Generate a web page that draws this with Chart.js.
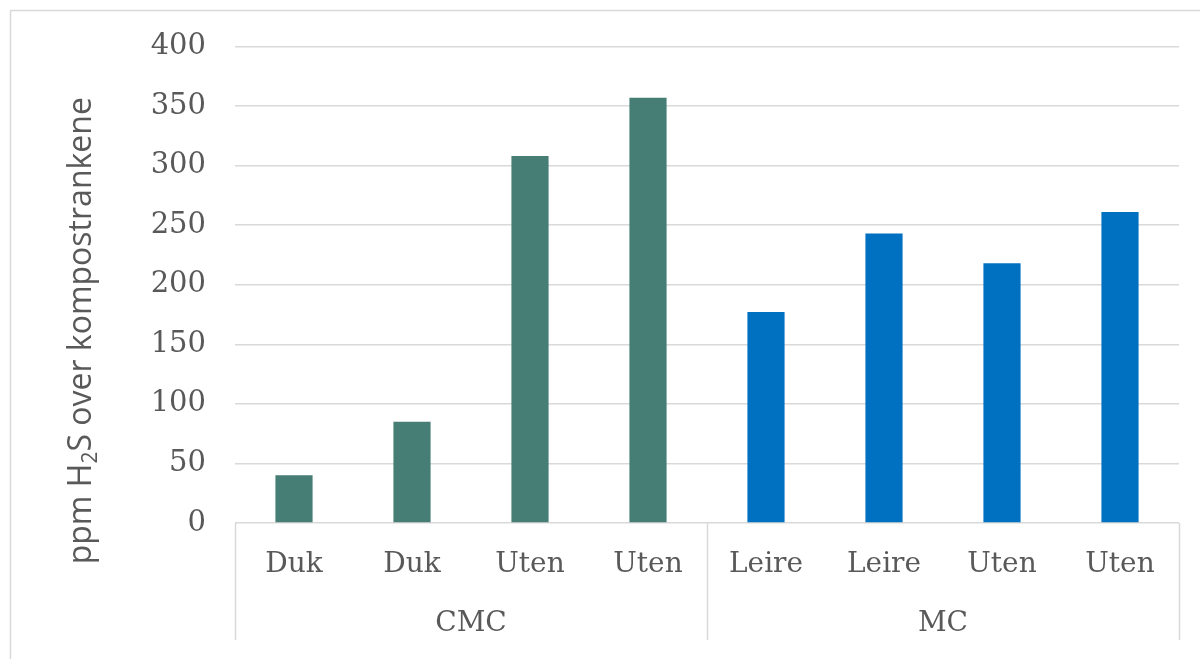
<!DOCTYPE html>
<html>
<head>
<meta charset="utf-8">
<script src="https://cdn.jsdelivr.net/npm/chart.js@4/dist/chart.umd.min.js"></script>
<style>
  html, body { margin: 0; padding: 0; background: #fff; }
  #wrap { width: 1200px; height: 659px; position: relative; }
</style>
</head>
<body>
<div id="wrap"><canvas id="c" width="1200" height="659"></canvas></div>
<script>
// Sub-categories (inner axis level), grouped under the outer labels
const categories = ['Duk', 'Duk', 'Uten', 'Uten', 'Leire', 'Leire', 'Uten', 'Uten'];
const groups = ['CMC', 'MC'];
const groupSizes = [4, 4];
const values = [40, 85, 308, 357, 177, 243, 218, 261];
const groupColors = ['#467d74', '#0070c0'];
const yTicks = [0, 50, 100, 150, 200, 250, 300, 350, 400];
// Axis title: "ppm H", subscript "2", "S over kompostrankene"
const yTitleParts = ['ppm H', '2', 'S over kompostrankene'];

const textGray = '#595959';
const lineGray = '#d9d9d9';
const serif = '"DejaVu Serif", "Liberation Serif", serif';
const sans = '"Open Sans", "Noto Sans", sans-serif';

// One colour per bar, taken from the group it belongs to
const barColors = [];
groupSizes.forEach((n, g) => { for (let i = 0; i < n; i++) barColors.push(groupColors[g]); });

const decor = {
  id: 'decor',
  beforeDraw(chart) {
    const ctx = chart.ctx;
    ctx.save();
    ctx.fillStyle = '#fff';
    ctx.fillRect(0, 0, chart.width, chart.height);
    ctx.strokeStyle = lineGray;
    ctx.lineWidth = 1.5;
    ctx.strokeRect(10.5, 10.5, chart.width + 10, chart.height + 10);
    ctx.restore();
  },
  afterDraw(chart) {
    const ctx = chart.ctx;
    const xs = chart.scales.x, ys = chart.scales.y;
    const base = ys.getPixelForValue(0);
    const bottom = 640;
    // vertical separators between outer groups
    const bounds = [xs.left];
    let idx = 0;
    groupSizes.forEach((n, g) => {
      idx += n;
      if (g < groupSizes.length - 1) {
        bounds.push((xs.getPixelForValue(idx - 1) + xs.getPixelForValue(idx)) / 2);
      } else {
        bounds.push(xs.right);
      }
    });
    ctx.save();
    ctx.strokeStyle = lineGray;
    ctx.lineWidth = 1.5;
    bounds.forEach(b => {
      ctx.beginPath();
      ctx.moveTo(Math.round(b) + 0.5, base);
      ctx.lineTo(Math.round(b) + 0.5, bottom);
      ctx.stroke();
    });
    ctx.restore();

    // rotated y-axis title with subscript
    const mainFont = '32px ' + sans;
    const subFont = '21px ' + sans;
    ctx.save();
    ctx.fillStyle = textGray;
    ctx.textBaseline = 'middle';
    ctx.font = mainFont;
    const w0 = ctx.measureText(yTitleParts[0]).width;
    const w2 = ctx.measureText(yTitleParts[2]).width;
    ctx.font = subFont;
    const w1 = ctx.measureText(yTitleParts[1]).width;
    const total = w0 + w1 + w2;
    const cx = 82, cy = (ys.top + ys.bottom) / 2 + 46;
    ctx.translate(cx, cy);
    ctx.rotate(-Math.PI / 2);
    let x = -total / 2;
    ctx.font = mainFont;
    ctx.fillText(yTitleParts[0], x, 0);
    x += w0;
    ctx.font = subFont;
    ctx.fillText(yTitleParts[1], x, 9);
    x += w1;
    ctx.font = mainFont;
    ctx.fillText(yTitleParts[2], x, 0);
    ctx.restore();
  }
};

new Chart(document.getElementById('c'), {
  type: 'bar',
  data: {
    labels: categories,
    datasets: [{
      data: values,
      backgroundColor: barColors,
      borderWidth: 0,
      barPercentage: 0.315,
      categoryPercentage: 1.0
    }]
  },
  options: {
    responsive: false,
    animation: false,
    devicePixelRatio: 1,
    layout: { padding: { top: 45, right: 21, bottom: 0, left: 0 } },
    plugins: { legend: { display: false }, tooltip: { enabled: false }, title: { display: false } },
    scales: {
      x: {
        type: 'category',
        position: 'bottom',
        grid: { display: false, drawTicks: false },
        border: { display: false },
        ticks: { color: textGray, font: { family: serif, size: 28 }, padding: 25, maxRotation: 0, autoSkip: false },
        afterFit: s => { s.height = 58; }
      },
      x2: {
        type: 'category',
        position: 'bottom',
        labels: groups,
        offset: true,
        grid: { display: false, drawTicks: false },
        border: { display: false },
        ticks: { color: textGray, font: { family: serif, size: 28 }, padding: 26, maxRotation: 0, autoSkip: false },
        afterFit: s => { s.height = 78; }
      },
      y: {
        min: 0,
        max: 400,
        afterBuildTicks: s => { s.ticks = yTicks.map(v => ({ value: v })); },
        grid: { color: lineGray, lineWidth: 1.5, drawTicks: false },
        border: { display: false },
        ticks: { color: textGray, font: { family: serif, size: 29 }, padding: 29 },
        afterFit: s => { s.width = 235; }
      }
    }
  },
  plugins: [decor]
});
</script>
</body>
</html>
